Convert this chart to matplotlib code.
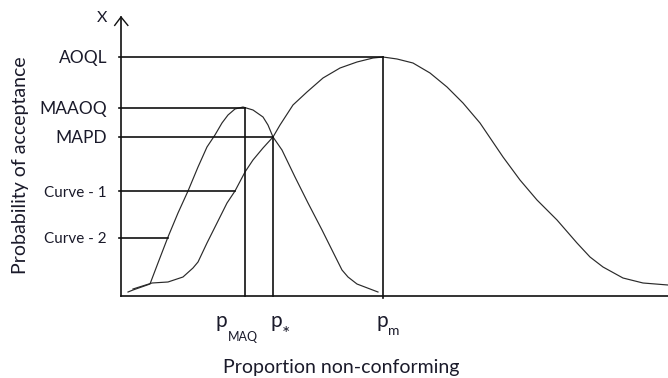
import matplotlib
matplotlib.use("Agg")
import matplotlib.pyplot as plt
import matplotlib.transforms as mtransforms

plt.rcParams['font.family'] = ['Lato', 'DejaVu Sans']

# ---- data (schematic units: x 0..100 proportion, y 0..100 probability) ----
curve1_x = [1.28, 2.19, 5.30, 6.76, 8.59, 10.42, 12.25, 14.08, 15.72, 17.18, 18.46, 19.56,
            20.84, 22.30, 24.13, 25.96, 26.87, 27.79, 29.43, 31.81, 34.19, 36.75, 38.57,
            40.40, 41.50, 43.14, 46.98]
curve1_y = [1.43, 2.15, 4.30, 11.83, 21.15, 29.75, 37.63, 46.24, 53.41, 57.71, 62.01, 64.87,
            67.03, 67.74, 66.67, 64.16, 61.29, 56.99, 52.33, 42.65, 33.33, 23.66, 16.49,
            9.32, 6.81, 4.30, 1.43]

curve2_x = [2.19, 5.67, 8.59, 11.33, 13.16, 14.08, 15.72, 17.55, 19.38, 20.84, 22.67, 24.13,
            25.96, 27.79, 29.07, 31.44, 34.00, 36.93, 40.04, 43.14, 46.07, 47.90, 50.46,
            53.38, 56.49, 59.60, 62.52, 65.63, 69.84, 72.94, 76.05, 79.71, 83.36, 85.74,
            88.12, 91.77, 95.43, 100.0]
curve2_y = [2.51, 4.66, 5.02, 6.81, 10.04, 12.19, 19.00, 26.16, 33.33, 37.63, 44.44, 48.75,
            53.05, 56.99, 61.29, 68.46, 73.12, 78.14, 81.72, 83.87, 85.30, 85.66, 84.95,
            83.51, 79.93, 74.91, 69.18, 62.01, 49.82, 41.58, 34.41, 27.24, 19.00, 13.98,
            10.39, 6.45, 4.66, 3.94]

level_labels = ['AOQL', 'MAAOQ', 'MAPD', 'Curve - 1', 'Curve - 2']
level_y = [85.7, 67.4, 57.0, 37.6, 20.8]
level_x_end = [47.9, 22.7, 27.8, 20.8, 8.6]

p_labels = ['p', 'p', 'p']
p_subscripts = ['MAQ', '*', 'm']
p_x = [22.7, 27.8, 47.9]
p_y_top = [67.4, 57.0, 85.7]

# ---- figure ----
W, H = 668, 378
fig = plt.figure(figsize=(W / 100, H / 100), dpi=100)
ax = fig.add_axes([121 / W, (H - 296) / H, 547 / W, (296 - 17) / H])
ax.set_xlim(0, 100)
ax.set_ylim(0, 100)

ink = '#111111'
txt = '#1a1a2a'
for s in ['top', 'right']:
    ax.spines[s].set_visible(False)
for s in ['left', 'bottom']:
    ax.spines[s].set_linewidth(1.2)
    ax.spines[s].set_color(ink)

# curves
ax.plot(curve1_x, curve1_y, color='#2a2a2a', lw=0.85, clip_on=False)
ax.plot(curve2_x, curve2_y, color='#2a2a2a', lw=0.85, clip_on=False)

# horizontal reference lines
for y, xe in zip(level_y, level_x_end):
    ax.plot([-0.4, xe], [y, y], color=ink, lw=1.2, clip_on=False)
# vertical reference lines
for i, (x, yt) in enumerate(zip(p_x, p_y_top)):
    ax.plot([x, x], [yt, -0.7 if i == 2 else 0], color=ink, lw=1.2, clip_on=False)

# y-axis arrow head
ax.plot([-1.15, 0, 1.25], [97.0, 100, 97.0], color=ink, lw=1.0, clip_on=False)

# y ticks -> level labels
ax.set_yticks(level_y)
ax.set_yticklabels(level_labels)
ax.tick_params(axis='y', length=0, pad=10, labelcolor=txt)
for lab in ax.get_yticklabels():
    lab.set_fontsize(11 if lab.get_text().startswith('Curve') else 12.5)

# x ticks -> p labels (+ subscripts)
ax.set_xticks(p_x)
ax.set_xticklabels(p_labels)
ax.tick_params(axis='x', length=0, pad=10.5, labelsize=15, labelcolor=txt)
p_offsets = [-23.5, 3, -1]
for lab, dx in zip(ax.get_xticklabels(), p_offsets):
    lab.set_transform(lab.get_transform() +
                      mtransforms.ScaledTranslation(dx / 100, 0, fig.dpi_scale_trans))

sub_offsets = [(-17, -45), (9, -44), (5, -39)]
sub_sizes = [9, 14, 10]
for x, s, (dx, dy), fs in zip(p_x, p_subscripts, sub_offsets, sub_sizes):
    ax.annotate(s, xy=(x, 0), xycoords='data', xytext=(dx, dy),
                textcoords='offset pixels', ha='left', va='baseline',
                fontsize=fs, color=txt, annotation_clip=False)

ax.set_xlabel('Proportion non-conforming', fontsize=14, color=txt)
ax.xaxis.set_label_coords((341 - 121) / 547, (296 - 367) / 279)
ax.xaxis.label.set_va('center')

ax.set_ylabel('Probability of acceptance', fontsize=14, color=txt)
ax.yaxis.set_label_coords((20 - 121) / 547, (296 - 165) / 279)
ax.yaxis.label.set_va('center')

ax.text(-0.035, 0.995, 'X', transform=ax.transAxes, fontsize=11.5,
        ha='center', va='center', color=txt)

fig.savefig('out.png', dpi=100)
